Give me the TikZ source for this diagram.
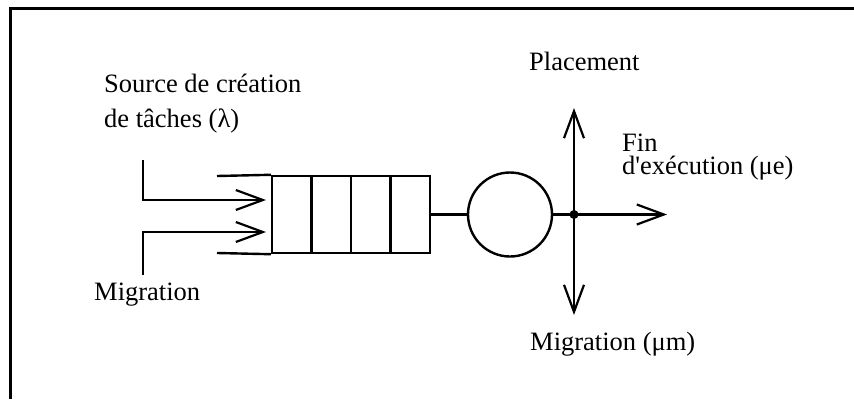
\documentclass[tikz,border=0pt]{standalone}
\usepackage{fontspec}
\setmainfont{Liberation Serif}
\usetikzlibrary{arrows.meta}
\begin{document}
\begin{tikzpicture}[x=1pt,y=-1pt, line width=2.4pt,
  lbl/.style={anchor=base west, inner sep=0pt, font=\fontsize{26.5}{30}\selectfont},
  barb/.style={-{Straight Barb[length=27pt,width=20pt,line width=2.2pt]}}]
\useasboundingbox (0,0) rectangle (854,399);
% frame (top and left only)
\draw[line width=2.5pt] (10.5,399) -- (10.5,8.5) -- (854,8.5);
% queue
\node[draw, minimum width=158pt, minimum height=77pt, inner sep=0pt] (queue) at (351,214.5) {};
\foreach \x in {311.5,351,390.5} \draw (\x,176) -- (\x,253);
\coordinate (qtop) at (217,176);
\coordinate (qbot) at (217,253);
\draw (qtop) -- (queue.north west);
\draw (qbot) -- (queue.south west);
% server
\node[draw, circle, minimum size=84pt, inner sep=0pt] (server) at (510,214.5) {};
\draw (queue.east) -- (server.west);
% junction
\coordinate (J) at (574,214.5);
\draw (server.east) -- (J);
\fill (J) circle (4.5pt);
\coordinate (up) at (574,108);
\coordinate (down) at (574,315);
\coordinate (out) at (667,214.5);
\draw[barb] (J) -- (up);
\draw[barb] (J) -- (down);
\draw[barb] (J) -- (out);
% inputs
\coordinate (srcTop) at (143,160);
\coordinate (srcTip) at (266,200);
\draw[barb] (srcTop) |- (srcTip);
\coordinate (migBot) at (143,275);
\coordinate (migTip) at (266,232);
\draw[barb] (migBot) |- (migTip);
% labels
\node[lbl] (t1) at (103,92) {Source de création};
\node[lbl] (t2) at (103,127) {de tâches (λ)};
\node[lbl] (t3) at (93,300) {Migration};
\node[lbl] (t4) at (528,70) {Placement};
\node[lbl, align=left, font=\fontsize{26.5}{23}\selectfont] (t5) at (621,174)
  {Fin\\d\textquotesingle exécution (μe)};
\node[lbl] (t7) at (529,350) {Migration (μm)};
\end{tikzpicture}
\end{document}
